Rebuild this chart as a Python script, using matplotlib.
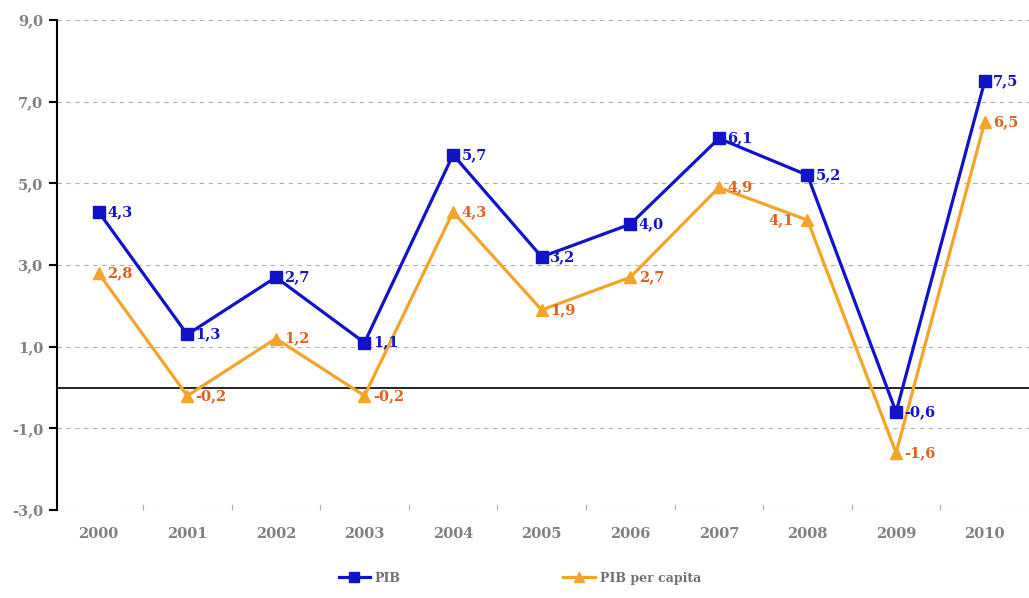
import matplotlib
matplotlib.use("Agg")
import matplotlib.pyplot as plt
from matplotlib.lines import Line2D

years = ["2000", "2001", "2002", "2003", "2004", "2005", "2006", "2007", "2008", "2009", "2010"]
pib = [4.3, 1.3, 2.7, 1.1, 5.7, 3.2, 4.0, 6.1, 5.2, -0.6, 7.5]
pib_pc = [2.8, -0.2, 1.2, -0.2, 4.3, 1.9, 2.7, 4.9, 4.1, -1.6, 6.5]
yticks = [9.0, 7.0, 5.0, 3.0, 1.0, -1.0, -3.0]

blue = "#1212c8"
orange = "#f5a42a"
orange_txt = "#e0601c"

fig = plt.figure(figsize=(10.29, 5.98), dpi=100)
ax = fig.add_axes([0.0554, 0.147, 0.9446, 0.8196])

x = list(range(len(years)))
ax.plot(x, pib, color=blue, lw=2.3, marker="s", ms=9, zorder=4)
ax.plot(x, pib_pc, color=orange, lw=2.3, marker="^", ms=9, zorder=3)
ax.axhline(0, color="black", lw=1.2, zorder=2)

fnt = dict(family="DejaVu Serif", fontweight="bold", fontsize=10.5)
for i, v in enumerate(pib):
    ax.annotate(f"{v:.1f}".replace(".", ","), (i, v), xytext=(6, 0), textcoords="offset points",
                ha="left", va="center", color=blue, **fnt)
for i, v in enumerate(pib_pc):
    if i == 8:
        ax.annotate(f"{v:.1f}".replace(".", ","), (i, v), xytext=(-10, 0), textcoords="offset points",
                    ha="right", va="center", color=orange_txt, **fnt)
    else:
        ax.annotate(f"{v:.1f}".replace(".", ","), (i, v), xytext=(6, 0), textcoords="offset points",
                    ha="left", va="center", color=orange_txt, **fnt)

ax.set_xlim(-0.47, 10.5)
ax.set_ylim(-3, 9)
ax.set_yticks(yticks)
ax.set_yticklabels([f"{t:.1f}".replace(".", ",") for t in yticks])
ax.set_xticks(x)
ax.set_xticklabels(years)
ax.set_xticks([i + 0.5 for i in range(len(years))], minor=True)
ax.grid(axis="y", color="#b0b0b0", ls=(0, (4, 4)), lw=0.8)
ax.set_axisbelow(True)
for s in ["top", "right", "bottom"]:
    ax.spines[s].set_visible(False)
ax.spines["left"].set_linewidth(1.5)
ax.tick_params(axis="y", length=6, width=1.5, colors="black", labelcolor="#808080", labelsize=10.5, pad=4)
ax.tick_params(axis="x", which="major", length=0, labelcolor="#808080", labelsize=10.5, pad=12)
ax.tick_params(axis="x", which="minor", length=4, width=0.8, color="#b0b0b0", direction="in")
for lab in ax.get_xticklabels() + ax.get_yticklabels():
    lab.set_family("DejaVu Serif")
    lab.set_fontweight("bold")

handles = [Line2D([], [], color=blue, lw=2.3, marker="s", ms=7),
           Line2D([], [], color=orange, lw=2.3, marker="^", ms=7)]
fig.legend(handles, ["PIB", "PIB per capita"], loc="center", bbox_to_anchor=(0.505, 0.033), ncol=2,
           frameon=False, handlelength=2.5, handletextpad=0.4, columnspacing=13,
           prop=dict(family="DejaVu Serif", weight="bold", size=9), labelcolor="#707070")

fig.savefig("out.png", dpi=100)
